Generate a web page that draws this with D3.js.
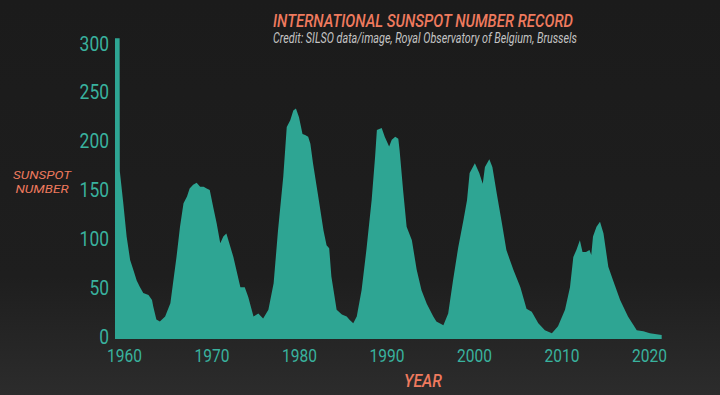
<!DOCTYPE html>
<html lang="en">
<head>
  <meta charset="UTF-8">
  <title>International sunspot number record</title>
  <style>
      body{
          margin:0;
          background:#1d1d1d;
      }
      text{
          font-family: Roboto, "DejaVu Sans Condensed", sans-serif;
      }
      .tick text{
          fill:#39b29e;
          font-weight:400;
      }
  </style>
</head>
<body>
    <svg width="720" height="395"></svg>
    <script src="https://d3js.org/d3.v7.min.js"></script>
    <script>

        // values (year, sunspot number)
        var years = [1958.97, 1959.5, 1959.52, 1959.92, 1960.3, 1960.7, 1961.1, 1961.45, 1961.8, 1962.2,
            1962.8, 1963.2, 1963.35, 1963.7, 1964.1, 1964.7, 1965.3, 1965.6, 1966.0, 1966.4,
            1966.8, 1967.2, 1967.5, 1967.9, 1968.3, 1968.7, 1969.1, 1969.45, 1969.8, 1970.2,
            1970.6, 1971.0, 1971.35, 1971.7, 1972.5, 1973.3, 1973.8, 1974.2, 1974.8, 1975.35,
            1975.9, 1976.5, 1977.1, 1977.6, 1978.2, 1978.6, 1979.0, 1979.35, 1979.65, 1980.0,
            1980.4, 1980.7, 1981.05, 1981.3, 1981.6, 1982.2, 1982.8, 1983.15, 1983.45, 1983.7,
            1984.3, 1984.9, 1985.45, 1985.8, 1986.2, 1986.6, 1987.15, 1987.7, 1988.3, 1988.7,
            1988.9, 1989.45, 1989.8, 1990.3, 1990.6, 1991.0, 1991.35, 1991.5, 1991.9, 1992.3,
            1992.9, 1993.45, 1994.0, 1994.6, 1995.35, 1995.7, 1996.5, 1997.05, 1997.6, 1998.2,
            1998.8, 1999.2, 1999.5, 2000.1, 2000.6, 2001.0, 2001.25, 2001.75, 2002.1, 2002.6,
            2003.2, 2003.7, 2004.5, 2005.3, 2006.0, 2006.6, 2007.35, 2008.1, 2008.9, 2009.6,
            2010.4, 2010.97, 2011.35, 2011.7, 2012.1, 2012.4, 2012.8, 2013.2, 2013.4, 2013.6,
            2014.0, 2014.4, 2014.8, 2015.35, 2015.9, 2016.7, 2017.6, 2018.6, 2019.35, 2020.1,
            2021.45];
        var sunspots = [308, 308, 172, 139, 105, 81, 70, 60, 53.5, 47,
            45, 40, 33, 20, 18, 23, 36.5, 57, 84, 115,
            139, 146, 154, 158, 160, 156, 156, 154, 152.5, 135,
            118, 98, 105, 108, 84, 53, 53, 43, 23, 26,
            21, 30, 57, 111, 166, 217, 224, 234, 236, 227,
            210, 209, 207, 200, 180, 146, 111, 96, 93, 64,
            30, 25, 23, 19.5, 16, 23, 50, 91, 142, 187,
            214, 216, 207, 197, 204, 207, 205, 193, 152, 115,
            101, 71, 50, 36, 23, 18, 14, 26, 60, 94,
            122, 142, 170, 180, 170, 159, 176, 184, 176, 149,
            118, 91, 71, 53, 31, 28, 16, 9, 6, 13,
            30, 53, 84, 91, 101, 89, 89, 91, 86, 105,
            115, 120, 108, 74, 60, 40, 23, 9, 8, 6,
            4];
        var yearTicks = [1960, 1970, 1980, 1990, 2000, 2010, 2020];
        var countTicks = [0, 50, 100, 150, 200, 250, 300];

        var data = years.map(function(y, i) { return {year: y, value: sunspots[i]}; });

        var svg = d3.select("svg");

        // the original uses a condensed face, so squeeze the text horizontally
        function squeeze(sel, factor) {
            sel.each(function() {
                var w = this.getComputedTextLength();
                d3.select(this).attr("textLength", w * factor).attr("lengthAdjust", "spacingAndGlyphs");
            });
        }
        function fitTo(sel, w) {
            sel.attr("textLength", w).attr("lengthAdjust", "spacingAndGlyphs");
        }

        // dark backdrop, a little lighter towards the bottom
        var grad = svg.append("defs").append("linearGradient")
            .attr("id", "bg").attr("x1", 0).attr("y1", 0).attr("x2", 0).attr("y2", 1);
        grad.append("stop").attr("offset", "0%").attr("stop-color", "#1b1b1b");
        grad.append("stop").attr("offset", "70%").attr("stop-color", "#1e1e1e");
        grad.append("stop").attr("offset", "100%").attr("stop-color", "#2c2c2c");
        svg.append("rect").attr("width", 720).attr("height", 395).attr("fill", "url(#bg)");

        var x = d3.scaleLinear().domain([1960, 2020]).range([124, 649]);
        var y = d3.scaleLinear().domain([0, 300]).range([339, 46]);

        svg.append("path")
            .datum(data)
            .attr("fill", "#2ea593")
            .attr("d", d3.area()
                .x(function(d) { return x(d.year); })
                .y0(y(0))
                .y1(function(d) { return y(d.value); }));

        var xAxis = svg.append("g")
            .attr("transform", "translate(0," + y(0) + ")")
            .call(d3.axisBottom(x).tickValues(yearTicks).tickFormat(d3.format("d")).tickSize(0));
        xAxis.select(".domain").remove();
        xAxis.selectAll("text")
            .attr("font-size", 18.5).attr("font-family", null)
            .attr("y", 22.7).attr("dy", null)
            .call(squeeze, 0.84);

        var yAxis = svg.append("g")
            .attr("transform", "translate(109,0)")
            .call(d3.axisLeft(y).tickValues(countTicks).tickSize(0));
        yAxis.select(".domain").remove();
        yAxis.selectAll("text")
            .attr("font-size", 21).attr("font-family", null)
            .attr("x", 0).attr("dy", 4)
            .call(squeeze, 0.83);

        // titles
        svg.append("text")
            .attr("x", 423).attr("y", 27)
            .attr("text-anchor", "middle")
            .attr("font-style", "italic").attr("font-weight", 500).attr("font-size", 18)
            .attr("fill", "#ef7a5e")
            .text("INTERNATIONAL SUNSPOT NUMBER RECORD")
            .call(fitTo, 300);

        svg.append("text")
            .attr("x", 425).attr("y", 43)
            .attr("text-anchor", "middle")
            .attr("font-style", "italic").attr("font-size", 14)
            .attr("fill", "#c4c4c4")
            .text("Credit: SILSO data/image, Royal Observatory of Belgium, Brussels")
            .call(fitTo, 304);

        svg.append("text")
            .attr("x", 42).attr("y", 178.6)
            .attr("text-anchor", "middle")
            .attr("font-style", "italic").attr("font-size", 11.8)
            .attr("fill", "#ef7a5e")
            .text("SUNSPOT")
            .call(fitTo, 58);
        svg.append("text")
            .attr("x", 42).attr("y", 192.6)
            .attr("text-anchor", "middle")
            .attr("font-style", "italic").attr("font-size", 11.8)
            .attr("fill", "#ef7a5e")
            .text("NUMBER")
            .call(fitTo, 53);

        svg.append("text")
            .attr("x", 423).attr("y", 387)
            .attr("text-anchor", "middle")
            .attr("font-style", "italic").attr("font-weight", 500).attr("font-size", 18.5)
            .attr("fill", "#ef7a5e")
            .text("YEAR")
            .call(fitTo, 38);

    </script>
</body>
</html>
